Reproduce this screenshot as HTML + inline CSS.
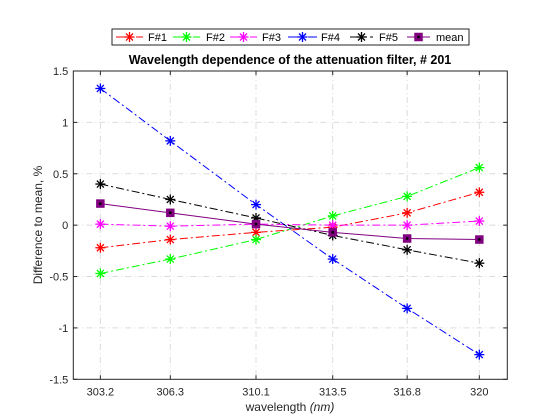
<!DOCTYPE html>
<html><head><meta charset="utf-8"><style>
html,body{margin:0;padding:0;background:#fff;}
svg{display:block;font-family:"Liberation Sans",Arial,sans-serif;}
</style></head><body>
<svg id="chart" width="560" height="420" viewBox="0 0 560 420">
<rect x="0" y="0" width="560" height="420" fill="#fff"/>
<rect x="73.3" y="71" width="434" height="308.3" fill="#fff" stroke="none"/>
<g id="grid"></g>
<g id="series"></g>
<rect x="73.3" y="71" width="434" height="308.3" fill="none" stroke="#262626" stroke-width="1"/>
<g id="ticks"></g>
<text x="290" y="64" text-anchor="middle" font-size="12.5" font-weight="bold" fill="#000">Wavelength dependence of the attenuation filter,  # 201</text>
<text x="290" y="411" text-anchor="middle" font-size="12" fill="#262626">wavelength <tspan font-style="italic">(nm)</tspan></text>
<text transform="translate(42,225) rotate(-90)" text-anchor="middle" font-size="12" fill="#262626">Difference to mean, %</text>
<g id="legend"></g>
</svg>
<script>
const wavelengths = [303.2, 306.3, 310.1, 313.5, 316.8, 320];
const xTickLabels = ["303.2","306.3","310.1","313.5","316.8","320"];
const yTicks = [-1.5,-1,-0.5,0,0.5,1,1.5];
const yTickLabels = ["-1.5","-1","-0.5","0","0.5","1","1.5"];
const seriesNames = ["F#1","F#2","F#3","F#4","F#5","mean"];
const f1 = [-0.22,-0.14,-0.07,-0.02,0.12,0.32];
const f2 = [-0.47,-0.33,-0.14,0.09,0.28,0.56];
const f3 = [0.01,-0.01,0.01,0.00,0.00,0.04];
const f4 = [1.33,0.82,0.20,-0.33,-0.81,-1.26];
const f5 = [0.40,0.25,0.07,-0.10,-0.24,-0.37];
const meanVals = [0.21,0.12,0.01,-0.07,-0.13,-0.14];

const NS="http://www.w3.org/2000/svg";
const L=73.3,R=507.3,T=71,B=379.3;
const xMin=302.0,xMax=321.24,yMin=-1.5,yMax=1.5;
const xs=v=>L+(v-xMin)/(xMax-xMin)*(R-L);
const ys=v=>B-(v-yMin)/(yMax-yMin)*(B-T);
function mk(tag,attrs,parent){const e=document.createElementNS(NS,tag);for(const k in attrs)e.setAttribute(k,attrs[k]);parent.appendChild(e);return e;}
const grid=document.getElementById('grid'),ticks=document.getElementById('ticks'),ser=document.getElementById('series'),leg=document.getElementById('legend');
wavelengths.forEach((w,i)=>{
  const x=xs(w);
  const g=mk('line',{x1:x,x2:x,y1:T,y2:B,stroke:'#dcdcdc','stroke-width':1,'stroke-dasharray':'6,3,1,3'},grid);
  
  
  mk('line',{x1:x,x2:x,y1:B,y2:B-4,stroke:'#262626'},ticks);
  mk('line',{x1:x,x2:x,y1:T,y2:T+4,stroke:'#262626'},ticks);
  const t=mk('text',{x:x,y:B+16,'text-anchor':'middle','font-size':11,fill:'#262626'},ticks);
  t.textContent=xTickLabels[i];
  
  
});
yTicks.forEach((v,i)=>{
  const y=ys(v);
  if(v>yMin&&v<yMax){
    const g=mk('line',{x1:L,x2:R,y1:y,y2:y,stroke:'#dcdcdc','stroke-width':1,'stroke-dasharray':'6,3,1,3'},grid);
    
    
  }
  mk('line',{x1:L,x2:L+4,y1:y,y2:y,stroke:'#262626'},ticks);
  mk('line',{x1:R,x2:R-4,y1:y,y2:y,stroke:'#262626'},ticks);
  const t=mk('text',{x:L-5,y:y+4,'text-anchor':'end','font-size':11,fill:'#262626'},ticks);
  t.textContent=yTickLabels[i];
  
  
});
const allData=[f1,f2,f3,f4,f5,meanVals];
const colors=['#ff0000','#00ff00','#ff00ff','#0000ff','#000000','#800080'];
const dashes=['8,3,2,3','8,3,2,3','8,3,2,3','8,3,2,3','8,3,2,3','none'];
function star(g,x,y,c){
  const r=5;
  [[r,0],[0,r],[r*0.7,r*0.7],[r*0.7,-r*0.7]].forEach(([dx,dy])=>mk('line',{x1:x-dx,y1:y-dy,x2:x+dx,y2:y+dy,stroke:c,'stroke-width':1.3},g));
}
function sq(g,x,y){
  mk('rect',{x:x-3.5,y:y-3.5,width:7,height:7,fill:'#800080',stroke:'#800080','stroke-width':1.5},g);
  mk('rect',{x:x-1.2,y:y-1.2,width:2.4,height:2.4,fill:'#000'},g);
}
allData.forEach((d,si)=>{
  const g=mk('g',{},ser);
  
  
  const pts=d.map((v,i)=>xs(wavelengths[i])+','+ys(v)).join(' ');
  mk('polyline',{points:pts,fill:'none',stroke:colors[si],'stroke-width':1,'stroke-dasharray':dashes[si]},g);
  d.forEach((v,i)=>{ if(si<5) star(g,xs(wavelengths[i]),ys(v),colors[si]); else sq(g,xs(wavelengths[i]),ys(v)); });
});
// legend
mk('rect',{x:112,y:29,width:357,height:16,fill:'#fff',stroke:'#262626','stroke-width':1},leg);
const legX=[[116,143,148],[173,200,206],[230,257,262],[288,317,321],[350,373,379],[407,430,436]];
seriesNames.forEach((n,i)=>{
  const g=mk('g',{},leg);
  
  
  const [a,b,tx]=legX[i];
  mk('line',{x1:a,x2:b,y1:37,y2:37,stroke:colors[i],'stroke-width':1,'stroke-dasharray':i<5?'12,3,2,3':'none'},g);
  const cx=(a+b)/2;
  if(i<5) star(g,cx,37,colors[i]); else sq(g,cx,37);
  const t=mk('text',{x:tx,y:41,'font-size':11,fill:'#000'},g);
  t.textContent=n;
});
</script>
</body></html>
